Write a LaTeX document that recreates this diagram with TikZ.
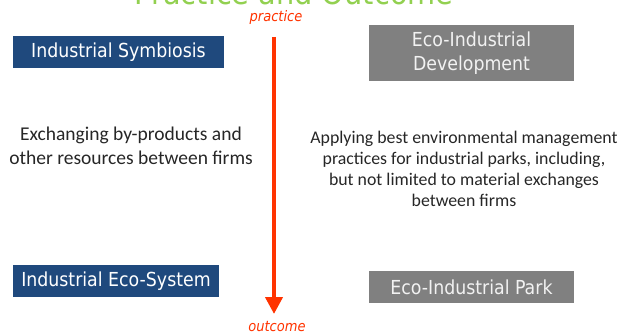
\documentclass[tikz,border=0pt]{standalone}
\usepackage{fontspec}
\setmainfont{Carlito}
\newfontfamily\boxfont{DejaVu Sans Condensed}
\usetikzlibrary{arrows.meta}
\definecolor{titlegreen}{RGB}{146,208,80}
\definecolor{flowred}{RGB}{255,51,0}
\definecolor{symblue}{RGB}{31,73,125}
\definecolor{parkgray}{RGB}{128,128,128}
\begin{document}
\begin{tikzpicture}[x=1pt,y=-1pt,
    bluebox/.style={fill=symblue,text=white,inner sep=0pt,minimum height=32pt,font=\boxfont\fontsize{19.3}{24}\selectfont},
    graybox/.style={fill=parkgray,text=white!95!black,inner sep=0pt,font=\boxfont\fontsize{19.3}{24}\selectfont,align=center},
    bodytext/.style={text=black!85,align=center,inner sep=0pt},
    flowlabel/.style={text=flowred,font=\boxfont\itshape\fontsize{14.5}{16}\selectfont,inner sep=0pt}]
    \clip (0,0) rectangle (627,334);
    \useasboundingbox (0,0) rectangle (627,334);
    % title, cut by the top edge
    \node (title) at (294,5) [anchor=base,text=titlegreen,inner sep=0pt,font=\boxfont\fontsize{32}{34}\selectfont] {Practice and Outcome};
    % left column
    \node (symbiosis) at (118.5,52) [bluebox,minimum width=211pt] {Industrial Symbiosis};
    \node (ecosystem) at (116,281) [bluebox,minimum width=206pt] {Industrial Eco-System};
    \node (exchange) at (131,146) [bodytext,font=\fontsize{19.5}{24}\selectfont] {Exchanging by-products and\\other resources between firms};
    % right column
    \node (development) at (471.5,53) [graybox,minimum width=205pt,minimum height=56pt] {Eco-Industrial\\Development};
    \node (park) at (471.5,287) [graybox,minimum width=205pt,minimum height=32pt] {Eco-Industrial Park};
    \node (applying) at (464,169) [bodytext,font=\fontsize{17.8}{21}\selectfont] {Applying best environmental management\\practices for industrial parks, including,\\but not limited to material exchanges\\between firms};
    % the arrow
    \node (practice) at (276,17.5) [flowlabel] {practice};
    \node (outcome) at (277,327) [flowlabel] {outcome};
    \coordinate (arrtop) at (274,37);
    \coordinate (arrtip) at (274,314);
    \draw[flowred,line width=4pt,-{Triangle[width=17pt,length=17pt]}] (arrtop) -- (arrtip);
\end{tikzpicture}
\end{document}
